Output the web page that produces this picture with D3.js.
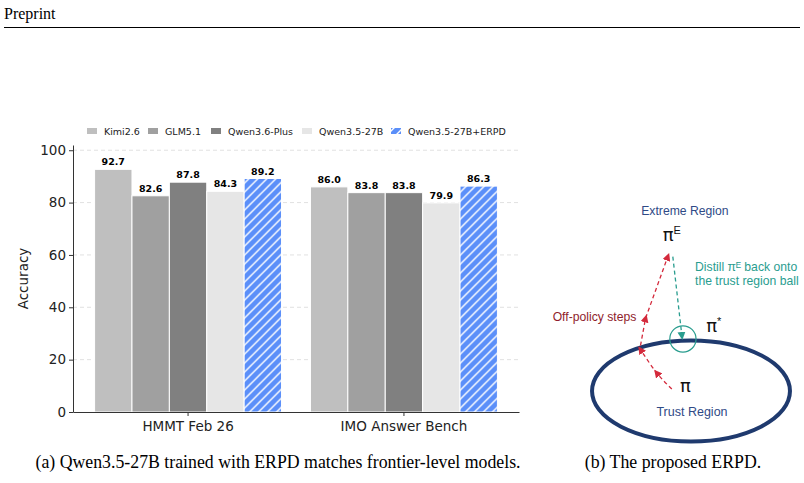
<!DOCTYPE html>
<html lang="en">
<head>
  <meta charset="UTF-8">
  <title>ERPD accuracy chart</title>
  <script src="https://d3js.org/d3.v7.min.js"></script>
  <style>
    body { margin: 0; background: #fff; }
    svg { display: block; }
  </style>
</head>
<body>
  <div id="chart"></div>

  <script>
    // Data
    const benchmarks = ["HMMT Feb 26", "IMO Answer Bench"];
    const models = ["Kimi2.6", "GLM5.1", "Qwen3.6-Plus", "Qwen3.5-27B", "Qwen3.5-27B+ERPD"];
    const hmmtScores = [92.7, 82.6, 87.8, 84.3, 89.2];
    const imoScores = [86.0, 83.8, 83.8, 79.9, 86.3];
    const yTicks = [0, 20, 40, 60, 80, 100];
    const modelColors = ["#bfbfbf", "#a0a0a0", "#808080", "#e6e6e6", "#5b8ff9"];

    const width = 804;
    const height = 483;
    const axisFont = "DejaVu Sans, sans-serif";
    const serif = "Liberation Serif, Times New Roman, serif";

    const svg = d3.select("#chart")
      .append("svg")
      .attr("width", width)
      .attr("height", height);

    // hatch for ERPD bars
    const defs = svg.append("defs");
    const tile = 9;
    const hatch = defs.append("pattern")
      .attr("id", "hatch")
      .attr("patternUnits", "userSpaceOnUse")
      .attr("width", tile)
      .attr("height", tile);
    hatch.append("rect").attr("width", tile).attr("height", tile).attr("fill", modelColors[4]);
    hatch.append("path")
      .attr("d", `M-2,2 l4,-4 M0,${tile} l${tile},-${tile} M${tile - 2},${tile + 2} l4,-4`)
      .attr("stroke", "#fff")
      .attr("stroke-width", 1.4);

    // header
    svg.append("text")
      .attr("x", 4).attr("y", 19)
      .attr("font-family", serif)
      .attr("font-size", 16)
      .text("Preprint");
    svg.append("line")
      .attr("x1", 4).attr("x2", 800)
      .attr("y1", 27.5).attr("y2", 27.5)
      .attr("stroke", "#000").attr("stroke-width", 1);

    // ---- (a) bar chart ----
    const plot = { left: 73, right: 519, top: 145, bottom: 412 };

    const x0 = d3.scaleBand()
      .domain(benchmarks)
      .range([plot.left, plot.right])
      .paddingInner(0.134)
      .paddingOuter(0.1);

    const x1 = d3.scaleBand()
      .domain(models)
      .range([0, x0.bandwidth()]);

    const y = d3.scaleLinear()
      .domain([0, 102])
      .range([plot.bottom, plot.top]);

    // gridlines
    svg.append("g")
      .selectAll("line")
      .data(yTicks.filter(d => d > 0))
      .join("line")
      .attr("x1", plot.left).attr("x2", plot.right)
      .attr("y1", d => y(d)).attr("y2", d => y(d))
      .attr("stroke", "#d9d9d9")
      .attr("stroke-width", 0.8)
      .attr("stroke-dasharray", "4,3");

    const scores = [hmmtScores, imoScores];
    const groups = svg.append("g")
      .selectAll("g")
      .data(benchmarks)
      .join("g")
      .attr("transform", d => `translate(${x0(d)},0)`);

    groups.selectAll("rect")
      .data((b, i) => models.map((m, j) => ({ model: m, value: scores[i][j], idx: j })))
      .join("rect")
      .attr("x", d => x1(d.model))
      .attr("y", d => y(d.value))
      .attr("width", x1.bandwidth())
      .attr("height", d => y(0) - y(d.value))
      .attr("fill", d => d.idx === 4 ? "url(#hatch)" : modelColors[d.idx])
      .attr("stroke", "#fff")
      .attr("stroke-width", 1);

    groups.selectAll("text")
      .data((b, i) => models.map((m, j) => ({ model: m, value: scores[i][j] })))
      .join("text")
      .attr("x", d => x1(d.model) + x1.bandwidth() / 2)
      .attr("y", d => y(d.value) - 4)
      .attr("text-anchor", "middle")
      .attr("font-family", axisFont)
      .attr("font-size", 9.5)
      .attr("font-weight", "bold")
      .text(d => d.value.toFixed(1));

    // axes
    const yAxis = svg.append("g")
      .attr("transform", `translate(${plot.left},0)`)
      .call(d3.axisLeft(y).tickValues(yTicks).tickSize(4).tickPadding(3).tickSizeOuter(0));
    yAxis.select(".domain").attr("stroke", "#333");
    yAxis.selectAll("text").attr("font-family", axisFont).attr("font-size", 13.5).attr("fill", "#222");
    yAxis.selectAll(".tick line").attr("stroke", "#333");

    const xAxis = svg.append("g")
      .attr("transform", `translate(0,${plot.bottom})`)
      .call(d3.axisBottom(x0).tickSize(4).tickPadding(5).tickSizeOuter(0));
    xAxis.select(".domain").attr("stroke", "#333");
    xAxis.selectAll("text").attr("font-family", axisFont).attr("font-size", 13.5).attr("fill", "#222");
    xAxis.selectAll(".tick line").attr("stroke", "#333");

    svg.append("text")
      .attr("transform", `translate(28,${(plot.top + plot.bottom) / 2}) rotate(-90)`)
      .attr("text-anchor", "middle")
      .attr("font-family", axisFont)
      .attr("font-size", 13.5)
      .attr("fill", "#222")
      .text("Accuracy");

    // legend
    const legendX = [87, 148, 211, 302, 391];
    const legend = svg.append("g")
      .selectAll("g")
      .data(models)
      .join("g")
      .attr("transform", (d, i) => `translate(${legendX[i]},131)`);
    legend.append("rect")
      .attr("x", 0).attr("y", -3)
      .attr("width", 10).attr("height", 6)
      .attr("fill", (d, i) => i === 4 ? "url(#hatch)" : modelColors[i]);
    legend.append("text")
      .attr("x", 17).attr("y", 3.5)
      .attr("font-family", axisFont)
      .attr("font-size", 9.5)
      .attr("fill", "#222")
      .text(d => d);

    // captions
    svg.append("text")
      .attr("x", 278).attr("y", 468)
      .attr("text-anchor", "middle")
      .attr("font-family", serif)
      .attr("font-size", 17.8)
      .text("(a) Qwen3.5-27B trained with ERPD matches frontier-level models.");
    svg.append("text")
      .attr("x", 673).attr("y", 468)
      .attr("text-anchor", "middle")
      .attr("font-family", serif)
      .attr("font-size", 17.8)
      .text("(b) The proposed ERPD.");

    // ---- (b) diagram, in local units (trust region centre at 0,0) ----
    const dx = d3.scaleLinear().domain([-1, 1]).range([590, 792]);
    const dy = d3.scaleLinear().domain([-1, 1]).range([492, 290]);
    const unit = dx(1) - dx(0);

    const trustRegion = { cx: 0, cy: 0, rx: 0.98, ry: 0.5 };
    const projBall = { cx: -0.08, cy: 0.515, r: 0.13 };
    const offPolicyCurve = [[-0.19, 0.02], [-0.34, 0.18], [-0.5, 0.41]];
    const offPolicyLine = [[-0.5, 0.45], [-0.45, 0.72], [-0.23, 1.33]];
    const distillLine = [[-0.18, 1.33], [-0.09, 0.545]];

    const navy = "#1f3a6e";
    const red = "#d42a3c";
    const teal = "#2a9d8f";

    ["arrowRed", "arrowTeal"].forEach((id, k) => {
      defs.append("marker")
        .attr("id", id)
        .attr("viewBox", "0 0 10 10")
        .attr("refX", 5).attr("refY", 5)
        .attr("markerWidth", 8).attr("markerHeight", 8)
        .attr("markerUnits", "userSpaceOnUse")
        .attr("orient", "auto")
        .append("path")
        .attr("d", "M0,0 L10,5 L0,10 z")
        .attr("fill", k === 0 ? red : teal);
    });

    svg.append("ellipse")
      .attr("cx", dx(trustRegion.cx)).attr("cy", dy(trustRegion.cy))
      .attr("rx", trustRegion.rx * unit).attr("ry", trustRegion.ry * unit)
      .attr("fill", "none")
      .attr("stroke", navy)
      .attr("stroke-width", 4);

    svg.append("circle")
      .attr("cx", dx(projBall.cx)).attr("cy", dy(projBall.cy))
      .attr("r", projBall.r * unit)
      .attr("fill", "none")
      .attr("stroke", teal)
      .attr("stroke-width", 1.2);

    const lineGen = d3.line().x(d => dx(d[0])).y(d => dy(d[1]));
    const curveGen = d3.line().x(d => dx(d[0])).y(d => dy(d[1])).curve(d3.curveNatural);

    svg.append("path")
      .attr("d", curveGen(offPolicyCurve))
      .attr("fill", "none")
      .attr("stroke", red).attr("stroke-width", 1.3)
      .attr("stroke-dasharray", "4,3")
      .attr("marker-mid", "url(#arrowRed)")
      .attr("marker-end", "url(#arrowRed)");

    svg.append("path")
      .attr("d", lineGen(offPolicyLine))
      .attr("fill", "none")
      .attr("stroke", red).attr("stroke-width", 1.3)
      .attr("stroke-dasharray", "4,3")
      .attr("marker-mid", "url(#arrowRed)")
      .attr("marker-end", "url(#arrowRed)");

    svg.append("path")
      .attr("d", lineGen(distillLine))
      .attr("fill", "none")
      .attr("stroke", teal).attr("stroke-width", 1.3)
      .attr("stroke-dasharray", "4,3")
      .attr("marker-end", "url(#arrowTeal)");

    // diagram labels
    const sans = "Liberation Sans, Arial, sans-serif";
    function piLabel(px, py, sup) {
      const t = svg.append("text")
        .attr("x", dx(px)).attr("y", dy(py))
        .attr("font-family", axisFont)
        .attr("font-size", 18)
        .attr("fill", "#111")
        .text("π");
      if (sup) {
        t.append("tspan")
          .attr("dy", -7)
          .attr("font-family", sans)
          .attr("font-size", 11)
          .text(sup);
      }
    }
    piLabel(-0.11, -0.01, null);
    piLabel(0.15, 0.58, "*");
    piLabel(-0.28, 1.49, "E");

    svg.append("text")
      .attr("x", dx(-0.06)).attr("y", dy(1.74))
      .attr("text-anchor", "middle")
      .attr("font-family", sans).attr("font-size", 12.2)
      .attr("fill", "#2f4a86")
      .text("Extreme Region");

    const distill = svg.append("text")
      .attr("font-family", sans).attr("font-size", 12.2)
      .attr("fill", teal);
    distill.append("tspan").attr("x", dx(0.04)).attr("y", dy(1.19)).text("Distill πᴱ back onto");
    distill.append("tspan").attr("x", dx(0.04)).attr("y", dy(1.05)).text("the trust region ball");

    svg.append("text")
      .attr("x", dx(-1.37)).attr("y", dy(0.69))
      .attr("font-family", sans).attr("font-size", 12.2)
      .attr("fill", "#8f1d2c")
      .text("Off-policy steps");

    svg.append("text")
      .attr("x", dx(0.01)).attr("y", dy(-0.25))
      .attr("text-anchor", "middle")
      .attr("font-family", sans).attr("font-size", 12.5)
      .attr("fill", "#2f4a86")
      .text("Trust Region");
  </script>
</body>
</html>
